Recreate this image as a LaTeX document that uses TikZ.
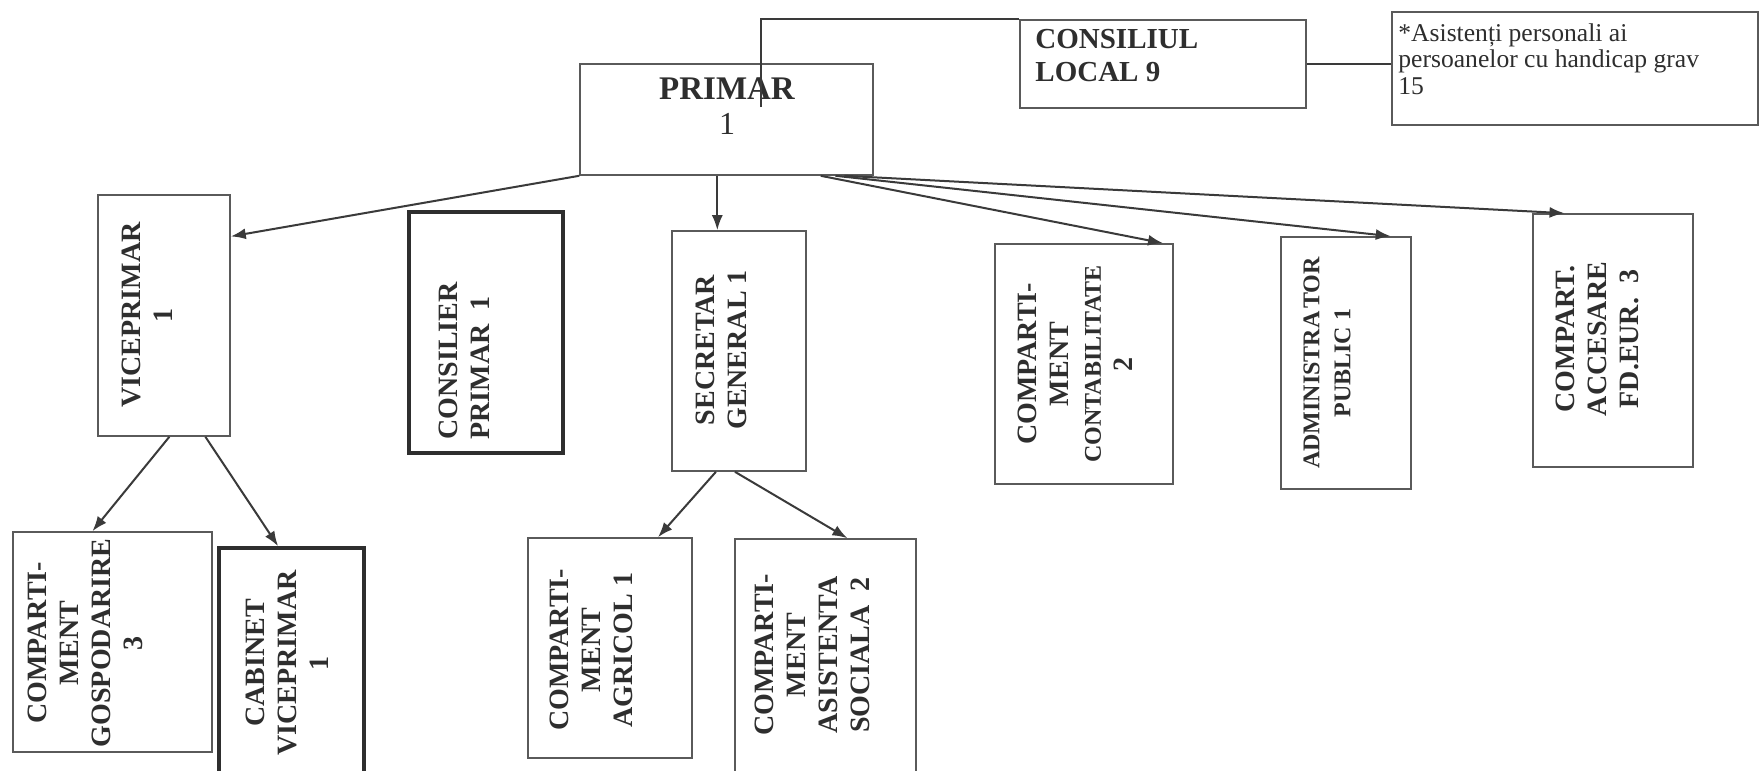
\documentclass[tikz,border=0pt]{standalone}
\usepackage{fontspec}
\setmainfont{Liberation Serif}
\usetikzlibrary{arrows.meta,calc,fit}
\definecolor{ink}{HTML}{2E2E2E}
\definecolor{edge}{HTML}{5A5A5A}
\definecolor{wire}{HTML}{3A3A3A}
\begin{document}
\begin{tikzpicture}[x=0.5pt,y=-0.5pt,
  box/.style={draw=edge, line width=0.8pt, inner sep=0pt},
  heavybox/.style={draw=ink, line width=1.8pt, inner sep=0pt},
  lbl/.style={text=ink, inner sep=0pt, font=\bfseries\fontsize{14}{16}\selectfont, align=center, rotate=90},
  arr/.style={draw=wire, line width=1pt, -{Latex[length=7.5pt,width=5.5pt]}},
  link/.style={draw=wire, line width=0.9pt}]
\useasboundingbox (0,0) rectangle (1762,771);
\fill[white] (0,0) rectangle (1762,771);

% boxes
\node[box, fit={(580,64) (873,175)}] (primar) {};
\node[box, fit={(1020,20) (1306,108)}] (cons) {};
\node[box, fit={(1392,12) (1758,125)}] (pers) {};
\node[box, fit={(98,195) (230,436)}] (vp) {};
\node[heavybox, fit={(409,212) (563,453)}] (cp) {};
\node[box, fit={(672,231) (806,471)}] (sec) {};
\node[box, fit={(995,244) (1173,484)}] (contab) {};
\node[box, fit={(1281,237) (1411,489)}] (admin) {};
\node[box, fit={(1533,214) (1693,467)}] (acc) {};
\node[box, fit={(13,532) (212,752)}] (gosp) {};
\node[heavybox, fit={(219,548) (364,800)}] (cab) {};
\node[box, fit={(528,538) (692,758)}] (agr) {};
\node[box, fit={(735,539) (916,800)}] (asis) {};

% texts
\node[text=ink, inner sep=0pt, anchor=base, font=\bfseries\fontsize{16.5}{18}\selectfont] (primar-t) at (727,99) {PRIMAR};
\node[text=ink, inner sep=0pt, anchor=base, font=\fontsize{16}{18}\selectfont] (primar-n) at (727,134) {1};
\node[text=ink, inner sep=0pt, anchor=north west, align=left, font=\bfseries\fontsize{14.5}{16.5}\selectfont] (cons-t) at (1035,29) {CONSILIUL\\LOCAL 9};
\node[text=ink, inner sep=0pt, anchor=north west, align=left, font=\fontsize{12.8}{13.4}\selectfont] (pers-t) at (1398,23) {*Asistenți personali ai\\persoanelor cu handicap grav\\15};

\node[lbl] (vp-t) at (147.5,315) {VICEPRIMAR\\1};
\node[lbl, align=left, anchor=west] (cp-t) at (464,440) {CONSILIER\\PRIMAR\ \ 1};
\node[lbl] (sec-t) at (721.5,350) {SECRETAR\\GENERAL 1};
\node[lbl] (contab-t) at (1075.5,364) {COMPARTI-\\MENT\\{\fontsize{12}{16}\selectfont CONTABILITATE}\\2};
\node[lbl, font=\bfseries\fontsize{12}{15.5}\selectfont] (admin-t) at (1327,363) {ADMINISTRA\kern1.5pt TOR\\PUBLIC 1};
\node[lbl] (acc-t) at (1597.5,339) {COMPART.\\ACCESARE\\FD.EUR.\ \ 3};
\node[lbl] (gosp-t) at (85,643) {COMPARTI-\\MENT\\GOSPODARIRE\\3};
\node[lbl] (cab-t) at (287.5,663) {CABINET\\VICEPRIMAR\\1};
\node[lbl] (agr-t) at (591,650) {COMPARTI-\\MENT\\AGRICOL 1};
\node[lbl] (asis-t) at (812.5,655) {COMPARTI-\\MENT\\ASISTENTA\\SOCIALA\ \ 2};

% plain links
\coordinate (c1) at (761,107);
\draw[link] (c1) -- (c1 |- cons.north) -- (cons.north west);
\draw[link] (cons.east) -- (cons.east -| pers.west);

% arrows from PRIMAR
\draw[arr] (primar.south west) -- ($(vp.north east)!0.174!(vp.south east)$);
\coordinate (secin) at ($(sec.north west)!0.34!(sec.north east)$);
\draw[arr] (secin |- primar.south) -- (secin);
\draw[arr] ($(primar.south west)!0.82!(primar.south east)$) -- ($(contab.north west)!0.94!(contab.north east)$);
\draw[arr] ($(primar.south west)!0.87!(primar.south east)$) -- ($(admin.north west)!0.84!(admin.north east)$);
\draw[arr] ($(primar.south west)!0.90!(primar.south east)$) -- ($(acc.north west)!0.20!(acc.north east)$);

% second level
\draw[arr] ($(vp.south west)!0.54!(vp.south east)$) -- ($(gosp.north west)!0.40!(gosp.north east)$);
\draw[arr] ($(vp.south west)!0.81!(vp.south east)$) -- ($(cab.north west)!0.41!(cab.north east)$);
\draw[arr] ($(sec.south west)!0.33!(sec.south east)$) -- ($(agr.north west)!0.79!(agr.north east)$);
\draw[arr] ($(sec.south west)!0.47!(sec.south east)$) -- ($(asis.north west)!0.62!(asis.north east)$);
\end{tikzpicture}
\end{document}
